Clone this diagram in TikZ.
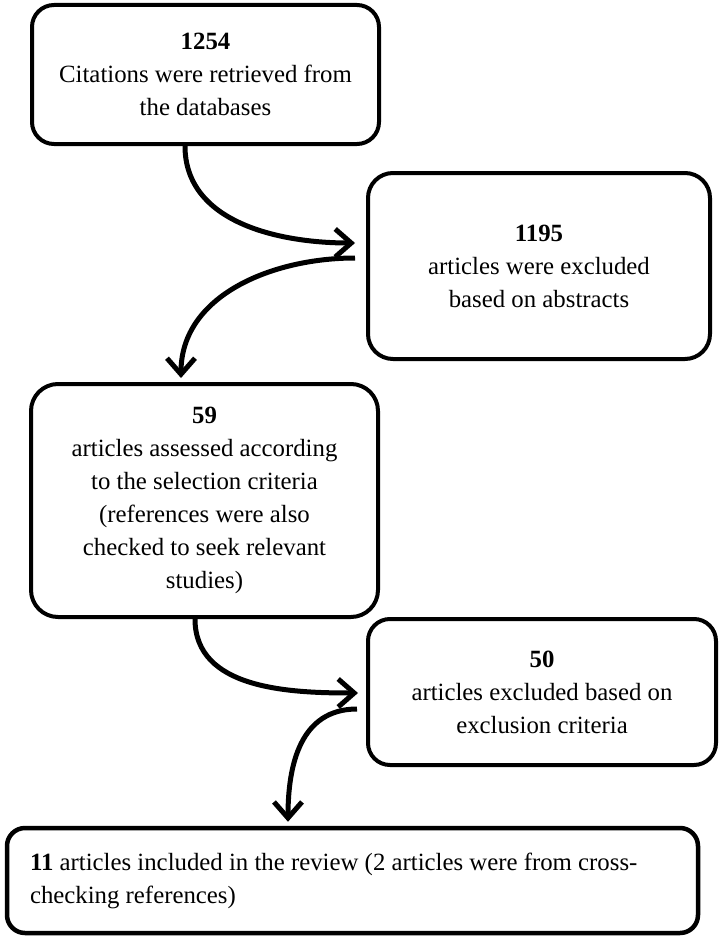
\documentclass[tikz,border=0pt]{standalone}
\usepackage{fontspec}
\setmainfont{Liberation Serif}
\usetikzlibrary{arrows.meta,calc}
\begin{document}
\begin{tikzpicture}[x=1pt,y=-1pt,
  box/.style={draw,line width=4pt,rounded corners=22pt,align=center,
    font=\fontsize{24.8}{33}\selectfont,inner sep=0pt},
  flow/.style={line width=5pt,-{Straight Barb[length=16pt,width=28pt]}}]
\useasboundingbox (0,0) rectangle (724,942);
\node[box,minimum width=347pt,minimum height=139pt] (b1) at (205.5,74.5)
  {\textbf{1254}\\Citations were retrieved from\\the databases};
\node[box,minimum width=342pt,minimum height=186pt,rounded corners=25pt] (b2) at (539,266)
  {\textbf{1195}\\articles were excluded\\based on abstracts};
\node[box,minimum width=347pt,minimum height=233pt,rounded corners=27pt] (b3) at (204.5,500.5)
  {\textbf{59}\\articles assessed according\\to the selection criteria\\(references were also\\checked to seek relevant\\studies)};
\node[box,minimum width=348pt,minimum height=146pt] (b4) at (542,692)
  {\textbf{50}\\articles excluded based on\\exclusion criteria};
\node[box,minimum height=105pt,rounded corners=18pt,align=flush left,text width=645pt,inner xsep=23pt,line width=4.5pt] (b5) at (352.5,880.5)
  {\textbf{11} articles included in the review (2 articles were from cross-\\checking references)};
\draw[flow] ([xshift=-20.5pt]b1.south) to[out=-90,in=180] ([xshift=-11pt,yshift=23pt]b2.west);
\draw[flow] ([xshift=-11pt,yshift=8pt]b2.west) to[out=180,in=90] ([xshift=-23.5pt,yshift=4pt]b3.north);
\draw[flow] ([xshift=-9.5pt]b3.south) to[out=-90,in=180] ([xshift=-8pt,yshift=-1pt]b4.west);
\draw[flow] ([xshift=-9pt,yshift=-17pt]b4.west) to[out=180,in=90,looseness=1.1] ([xshift=-64.5pt,yshift=4pt]b5.north);
\end{tikzpicture}
\end{document}
